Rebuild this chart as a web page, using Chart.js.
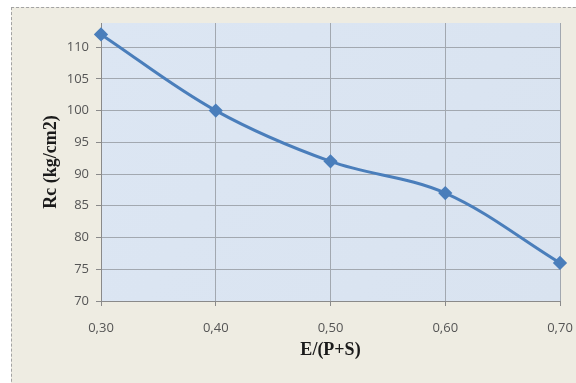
<!DOCTYPE html>
<html>
<head>
<meta charset="utf-8">
<script src="https://cdn.jsdelivr.net/npm/chart.js@4.4.1/dist/chart.umd.min.js"></script>
<style>
  html, body { margin: 0; padding: 0; background: #ffffff; }
  #wrap { position: relative; width: 576px; height: 383px; overflow: hidden; }
  #frame { position: absolute; left: 11px; top: 7px; width: 620px; height: 420px;
           background: #EEECE2; border: 1px dashed #a3a3a3; box-sizing: border-box; }
  canvas { position: absolute; left: 0; top: 0; }
</style>
</head>
<body>
<div id="wrap">
  <div id="frame"></div>
  <canvas id="c" width="576" height="383"></canvas>
</div>
<script>
const categories = ['0,30', '0,40', '0,50', '0,60', '0,70'];
const rcValues = [112, 100, 92, 87, 76];
const yTitle = 'Rc (kg/cm2)';
const xTitle = 'E/(P+S)';

const plotBg = {
  id: 'plotBg',
  beforeDraw(chart) {
    const { ctx, chartArea: a } = chart;
    ctx.save();
    const g = ctx.createLinearGradient(a.left, a.top, a.right, a.bottom);
    g.addColorStop(0, '#DCE6F3');
    g.addColorStop(1, '#D9E3F0');
    ctx.fillStyle = g;
    ctx.fillRect(a.left, a.top, a.right - a.left, a.bottom - a.top);
    ctx.restore();
  }
};

const tickFont = { family: '"Open Sans", sans-serif', size: 13 };
const titleFont = { family: '"Liberation Serif", "Times New Roman", serif', size: 18, weight: 'bold' };

new Chart(document.getElementById('c'), {
  type: 'line',
  data: {
    labels: categories,
    datasets: [{
      data: rcValues,
      borderColor: '#4A7EBB',
      backgroundColor: '#4A7EBB',
      borderWidth: 3,
      tension: 0.35,
      pointStyle: 'rectRot',
      pointRadius: 5,
      pointHoverRadius: 5,
      pointBackgroundColor: '#4A7EBB',
      pointBorderColor: '#4A7EBB',
      fill: false
    }]
  },
  plugins: [plotBg],
  options: {
    responsive: false,
    animation: false,
    devicePixelRatio: 1,
    layout: { padding: { top: 23, right: 16, left: 0, bottom: 0 } },
    plugins: { legend: { display: false }, tooltip: { enabled: false } },
    scales: {
      x: {
        offset: false,
        grid: { color: '#A2A8B0', lineWidth: 1, tickLength: 5, drawTicks: true, tickColor: '#8a8a8a' },
        border: { color: '#8a8a8a', width: 1 },
        ticks: { font: tickFont, color: '#555555', padding: 14, maxRotation: 0 },
        title: { display: true, text: xTitle, font: titleFont, color: '#1a1a1a', padding: { top: 0, bottom: 22 } },
        afterFit(s) { s.height = 82; s.paddingLeft = 0; s.paddingRight = 0; }
      },
      y: {
        min: 70,
        max: 113.8,
        grid: { color: '#A2A8B0', lineWidth: 1, tickLength: 5, tickColor: '#8a8a8a' },
        border: { color: '#8a8a8a', width: 1 },
        ticks: { stepSize: 5, includeBounds: false, font: tickFont, color: '#555555', padding: 7 },
        title: { display: true, text: yTitle, font: titleFont, color: '#1a1a1a', padding: { top: 41, bottom: 0 } },
        afterFit(s) { s.width = 101; s.paddingTop = 0; s.paddingBottom = 0; }
      }
    }
  }
});
</script>
</body>
</html>
